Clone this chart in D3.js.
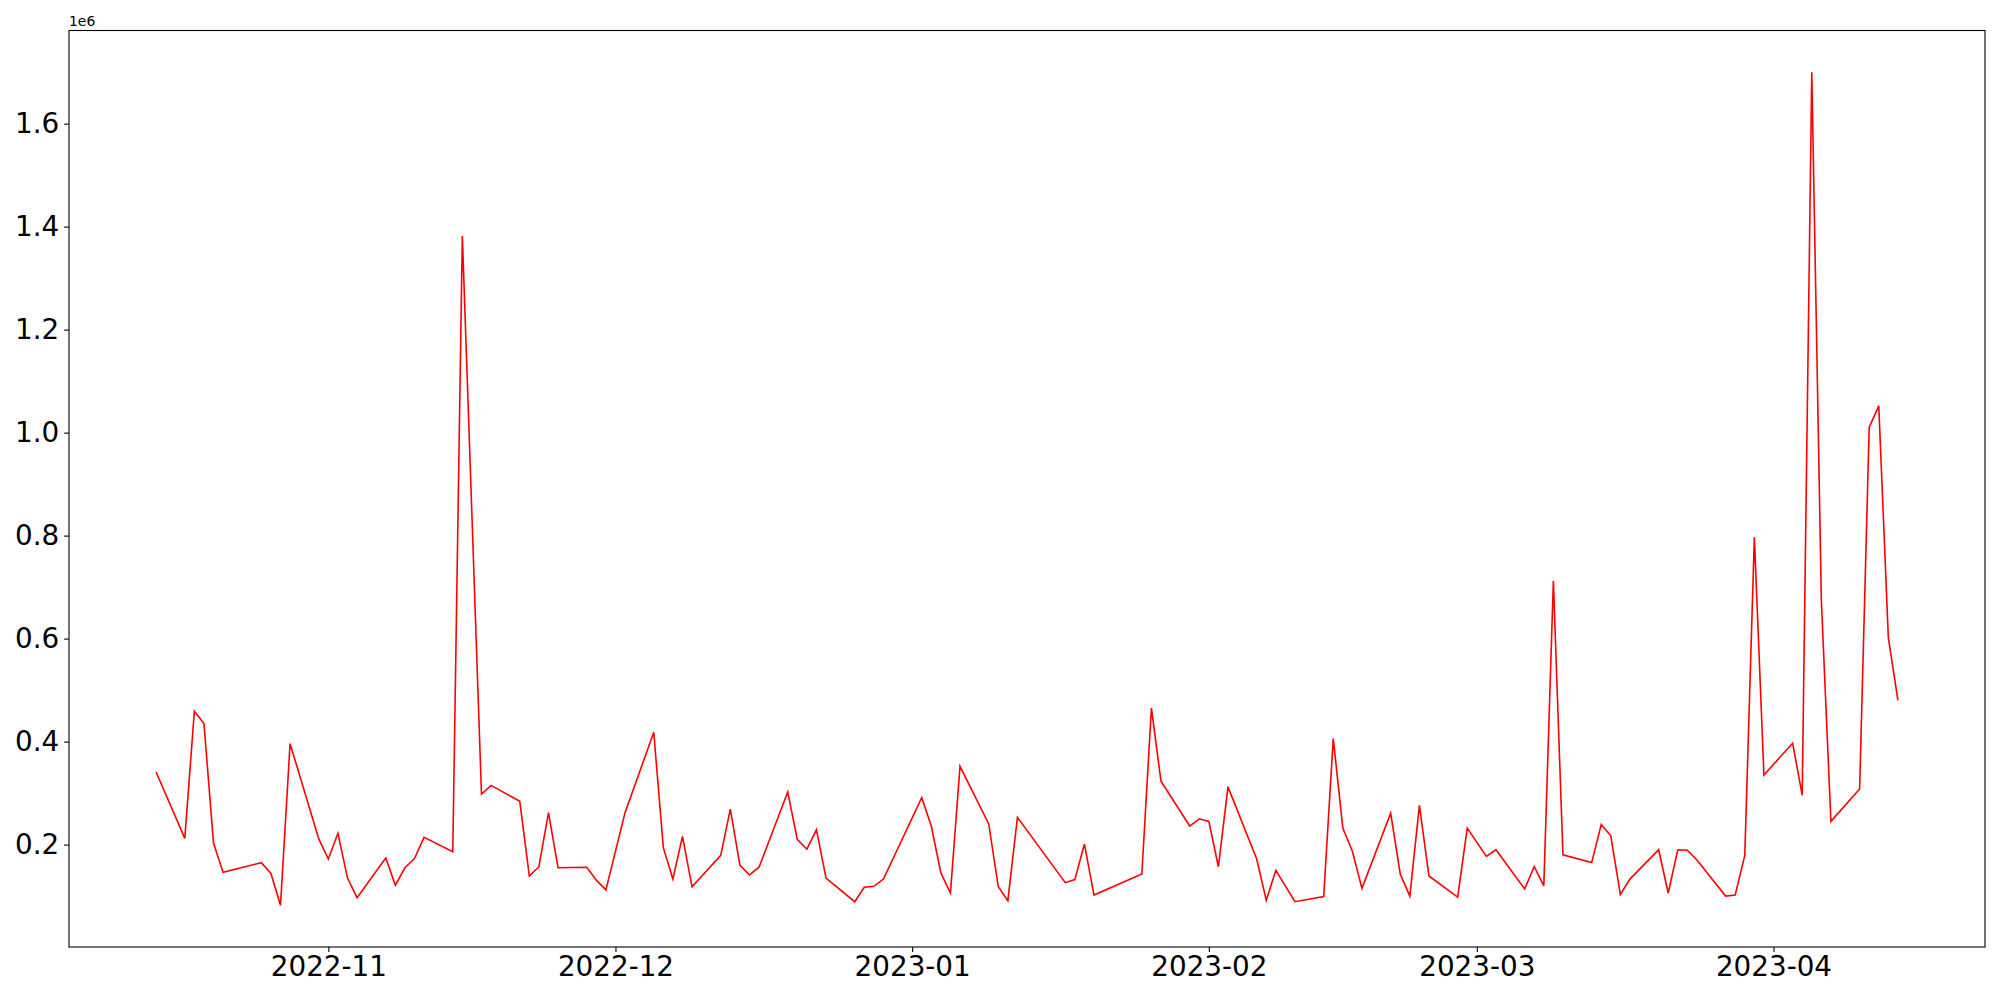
<!DOCTYPE html>
<html>
<head>
<meta charset="utf-8">
<script src="https://cdn.jsdelivr.net/npm/d3@7"></script>
<style>
  html, body { margin: 0; padding: 0; background: #fff; }
  svg { display: block; font-family: "DejaVu Sans", sans-serif; }
</style>
</head>
<body>
<svg id="chart" width="2000" height="1000"></svg>
<script>
const dates = [
  "2022-10-14","2022-10-17","2022-10-18","2022-10-19","2022-10-20","2022-10-21","2022-10-25","2022-10-26","2022-10-27","2022-10-28",
  "2022-10-31","2022-11-01","2022-11-02","2022-11-03","2022-11-04","2022-11-07","2022-11-08","2022-11-09","2022-11-10","2022-11-11",
  "2022-11-14","2022-11-15","2022-11-17","2022-11-18","2022-11-21","2022-11-22","2022-11-23","2022-11-24","2022-11-25","2022-11-28",
  "2022-11-29","2022-11-30","2022-12-02","2022-12-05","2022-12-06","2022-12-07","2022-12-08","2022-12-09","2022-12-12","2022-12-13",
  "2022-12-14","2022-12-15","2022-12-16","2022-12-19","2022-12-20","2022-12-21","2022-12-22","2022-12-23","2022-12-26","2022-12-27",
  "2022-12-28","2022-12-29","2023-01-02","2023-01-03","2023-01-04","2023-01-05","2023-01-06","2023-01-09","2023-01-10","2023-01-11",
  "2023-01-12","2023-01-17","2023-01-18","2023-01-19","2023-01-20","2023-01-25","2023-01-26","2023-01-27","2023-01-30","2023-01-31",
  "2023-02-01","2023-02-02","2023-02-03","2023-02-06","2023-02-07","2023-02-08","2023-02-10","2023-02-13","2023-02-14","2023-02-15",
  "2023-02-16","2023-02-17","2023-02-20","2023-02-21","2023-02-22","2023-02-23","2023-02-24","2023-02-27","2023-02-28","2023-03-02",
  "2023-03-03","2023-03-06","2023-03-07","2023-03-08","2023-03-09","2023-03-10","2023-03-13","2023-03-14","2023-03-15","2023-03-16",
  "2023-03-17","2023-03-20","2023-03-21","2023-03-22","2023-03-23","2023-03-24","2023-03-27","2023-03-28","2023-03-29","2023-03-30",
  "2023-03-31","2023-04-03","2023-04-04","2023-04-05","2023-04-06","2023-04-07","2023-04-10","2023-04-11","2023-04-12","2023-04-13",
  "2023-04-14"
];
const values = [
  341000,212000,459000,435000,203000,146000,165000,144000,82000,396000,
  211000,172000,222000,135000,97000,174000,121000,155000,173000,214000,
  186000,1382000,298000,315000,284000,139000,157000,262000,155000,156000,
  131000,112000,262000,418000,194000,133000,216000,118000,179000,269000,
  160000,141000,156000,302000,210000,191000,229000,135000,89000,117000,
  119000,133000,291000,236000,145000,106000,352000,240000,118000,91000,
  253000,126000,132000,201000,102000,143000,465000,323000,236000,250000,
  245000,157000,312000,172000,92000,150000,89000,99000,406000,232000,
  187000,115000,261000,143000,100000,276000,139000,98000,232000,177000,
  190000,114000,157000,120000,712000,180000,165000,239000,217000,103000,
  133000,190000,106000,190000,189000,170000,100000,102000,179000,797000,
  335000,397000,296000,1700000,675000,245000,308000,1010000,1052000,602000,
  480000
];
const yTicks = [0.2e6, 0.4e6, 0.6e6, 0.8e6, 1.0e6, 1.2e6, 1.4e6, 1.6e6];
const yTickLabels = ["0.2","0.4","0.6","0.8","1.0","1.2","1.4","1.6"];
const offsetLabel = "1e6";
const xTickFormat = "%Y-%m";
const lineColor = "#ff0000";

const W = 2000, H = 1000;
const margin = {left: 69, right: 15, top: 30.5, bottom: 53};
const pw = W - margin.left - margin.right;
const ph = H - margin.top - margin.bottom;

const parse = d3.timeParse("%Y-%m-%d");
const data = dates.map((d, i) => ({date: parse(d), value: values[i]}));

const [x0, x1] = d3.extent(data, d => d.date);
const xPad = (x1 - x0) * 0.05;
const [y0, y1] = d3.extent(data, d => d.value);
const yPad = (y1 - y0) * 0.05;

const x = d3.scaleTime().domain([new Date(+x0 - xPad), new Date(+x1 + xPad)]).range([0, pw]);
const y = d3.scaleLinear().domain([y0 - yPad, y1 + yPad]).range([ph, 0]);

const svg = d3.select("#chart");
const g = svg.append("g").attr("transform", `translate(${margin.left},${margin.top})`);

g.append("path")
  .datum(data)
  .attr("fill", "none")
  .attr("stroke", lineColor)
  .attr("stroke-width", 1.6)
  .attr("stroke-linejoin", "miter")
  .attr("d", d3.line().x(d => x(d.date)).y(d => y(d.value)));

const xAxis = d3.axisBottom(x)
  .tickValues(d3.timeMonth.range(d3.timeMonth.ceil(x.domain()[0]), x.domain()[1]))
  .tickFormat(d3.timeFormat(xTickFormat))
  .tickSizeOuter(0).tickSize(4.9).tickPadding(4.5);
const gx = g.append("g").attr("transform", `translate(0,${ph})`).call(xAxis);
gx.select(".domain").remove();
gx.selectAll(".tick line").attr("stroke", "#000").attr("stroke-width", 1.1);
gx.selectAll(".tick text").attr("font-size", "27.8px").attr("fill", "#000")
  .attr("font-family", "DejaVu Sans, sans-serif");

const yAxis = d3.axisLeft(y)
  .tickValues(yTicks)
  .tickFormat((d, i) => yTickLabels[i])
  .tickSizeOuter(0).tickSize(4.9).tickPadding(4.9);
const gy = g.append("g").call(yAxis);
gy.select(".domain").remove();
gy.selectAll(".tick line").attr("stroke", "#000").attr("stroke-width", 1.1);
gy.selectAll(".tick text").attr("font-size", "27.8px").attr("fill", "#000")
  .attr("font-family", "DejaVu Sans, sans-serif");

g.append("rect")
  .attr("x", 0).attr("y", 0).attr("width", pw).attr("height", ph)
  .attr("fill", "none").attr("stroke", "#000").attr("stroke-width", 1.1);

g.append("text")
  .attr("x", 0).attr("y", -5)
  .attr("font-size", "13.9px")
  .attr("fill", "#000")
  .text(offsetLabel);
</script>
</body>
</html>
